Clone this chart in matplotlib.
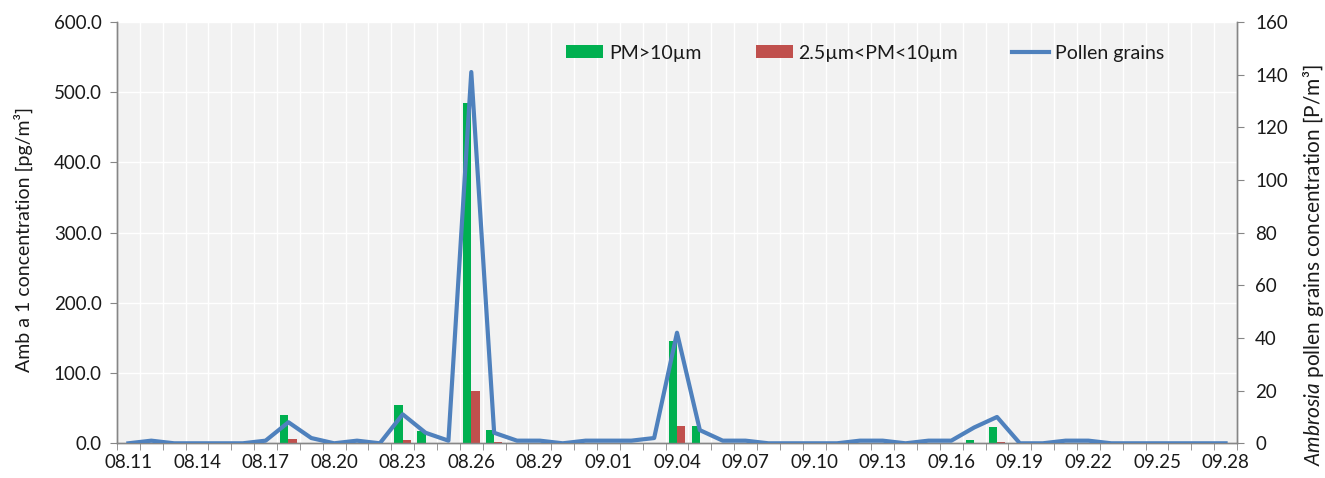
import matplotlib
matplotlib.use("Agg")
import matplotlib.pyplot as plt
import numpy as np
import pandas as pd
from matplotlib.ticker import FixedLocator, FuncFormatter

plt.rcParams['font.family'] = ['Lato', 'DejaVu Sans']
plt.rcParams['mathtext.fontset'] = 'custom'
plt.rcParams['mathtext.rm'] = 'Lato'
plt.rcParams['mathtext.it'] = 'Lato:italic'

dates = [d.strftime('%m.%d') for d in pd.date_range('2000-08-11', '2000-09-28')]

pollen = [0, 1, 0, 0, 0, 0, 1, 8, 2, 0, 1, 0, 11, 4, 1, 141, 4, 1, 1, 0, 1,
          1, 1, 2, 42, 5, 1, 1, 0, 0, 0, 0, 1, 1, 0, 1, 1, 6, 10, 0, 0, 1, 1, 0,
          0, 0, 0, 0, 0]

pm10 = {'08.18': 40, '08.23': 55, '08.24': 17, '08.26': 484, '08.27': 19,
        '09.04': 145, '09.05': 24, '09.17': 5, '09.18': 23}
pm25_10 = {'08.18': 6, '08.23': 4, '08.26': 75, '08.27': 2, '09.04': 24,
           '09.18': 1.5}

green_vals = [pm10.get(d, 0) for d in dates]
red_vals = [pm25_10.get(d, 0) for d in dates]

GREEN = '#00b050'
RED = '#c0504d'
BLUE = '#4f81bd'
SPINE = '#868686'
TXT = '#1a1a1a'

fig = plt.figure(figsize=(13.25, 4.78), dpi=100)
ax = fig.add_axes([117/1325, 1-443.3/478, (1237-117)/1325, (443.3-22)/478])
ax2 = ax.twinx()

x = np.arange(len(dates))
w = 0.36
ax.set_facecolor('#f2f2f2')
ax.bar(x - w/2, green_vals, width=w, color=GREEN, label='PM>10µm', zorder=3)
ax.bar(x + w/2, red_vals, width=w, color=RED, label='2.5µm<PM<10µm', zorder=3)
ln, = ax2.plot(x, pollen, color=BLUE, lw=3.0, label='Pollen grains', zorder=4)

ax.set_xlim(-0.5, len(dates) - 0.5)
ax.set_ylim(0, 600)
ax2.set_ylim(0, 160)

ax.set_yticks(np.arange(0, 601, 100))
ax.yaxis.set_major_formatter(FuncFormatter(lambda v, p: f'{v:.1f}'))
ax2.set_yticks(np.arange(0, 161, 20))

major = x[::3]
ax.set_xticks(major)
ax.set_xticklabels([dates[i] for i in major])
ax.xaxis.set_minor_locator(FixedLocator(np.arange(-0.5, len(dates), 1.0)))
ax.tick_params(axis='x', which='major', length=0, pad=8, labelsize=13.5,
               labelcolor=TXT)
ax.tick_params(axis='x', which='minor', length=5, color=SPINE, direction='out')
ax.tick_params(axis='y', length=5, color=SPINE, labelsize=13.5, pad=6,
               labelcolor=TXT)
ax2.tick_params(axis='y', length=5, color=SPINE, labelsize=13.5, pad=8,
                labelcolor=TXT)

ax.grid(which='minor', axis='x', color='white', lw=1.0, zorder=0)
ax.grid(which='major', axis='y', color='white', lw=1.0, zorder=0)
ax.set_axisbelow(True)

for a in (ax, ax2):
    a.spines['top'].set_visible(False)
    for s in ('left', 'right', 'bottom'):
        a.spines[s].set_color(SPINE)
        a.spines[s].set_linewidth(1.0)

fig.text(23/1325, 1-240/478, 'Amb a 1 concentration [pg/m³]', rotation=90,
         ha='center', va='center', fontsize=14, color=TXT)
fig.text(1313/1325, 1-265/478,
         r'$\it{Ambrosia}$ pollen grains concentration [P/m³]', rotation=90,
         ha='center', va='center', fontsize=15, color=TXT)

handles = ax.get_legend_handles_labels()[0] + [ln]
labels = ['PM>10µm', '2.5µm<PM<10µm', 'Pollen grains']
leg = fig.legend(handles, labels, loc='center', bbox_to_anchor=(0.653, 1-53/478),
                 ncol=3, frameon=False, fontsize=14, handlelength=1.9,
                 handletextpad=0.3, columnspacing=2.8, handleheight=0.65)
for t in leg.get_texts():
    t.set_color(TXT)

fig.savefig('out.png', dpi=100)
